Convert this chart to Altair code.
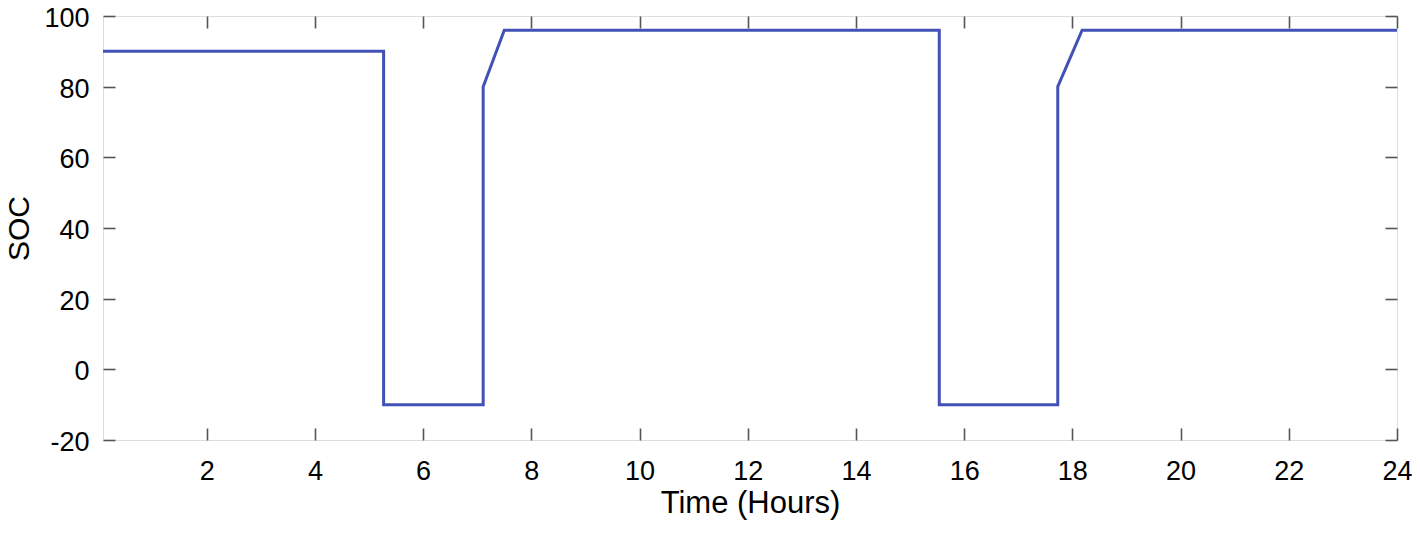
import altair as alt
import pandas as pd

# SOC profile (hours, percent)
hours = [1/12, 5.27, 5.27, 7.11, 7.11, 7.50, 15.54, 15.54, 17.73, 17.73, 18.18, 24.0]
soc = [90, 90, -10, -10, 80, 96, 96, -10, -10, 80, 96, 96]
x_ticks = [2, 4, 6, 8, 10, 12, 14, 16, 18, 20, 22, 24]
y_ticks = [-20, 0, 20, 40, 60, 80, 100]

df = pd.DataFrame({"t": hours, "soc": soc, "i": list(range(len(hours)))})

FONT = "Liberation Sans"
AX = "#555555"
LINE = "#4151B5"
TICK = 12

xscale = alt.Scale(domain=[1/12, 24], nice=False, zero=False)
yscale = alt.Scale(domain=[-20, 100], nice=False, zero=False)

common = dict(grid=False, domain=False, tickColor=AX, tickWidth=1.6, tickSize=TICK,
              offset=-TICK, labelFont=FONT, titleFont=FONT, labelColor="black",
              titleColor="black", labelFlush=False, labelOverlap=False,
              labelExpr="'' + datum.value")

x_bottom = alt.Axis(orient="bottom", values=x_ticks, labelFontSize=27, labelPadding=18,
                    title="Time (Hours)", titleFontSize=31, titleFontWeight="normal",
                    titlePadding=4, **common)
y_left = alt.Axis(orient="left", values=y_ticks, labelFontSize=27, labelPadding=14,
                  labelOffset=2.5,
                  title="SOC", titleFontSize=30, titleFontWeight="normal",
                  titlePadding=9, **common)
x_top = alt.Axis(orient="top", values=x_ticks, labels=False, title=None, **common)
y_right = alt.Axis(orient="right", values=y_ticks, labels=False, title=None, **common)

line = alt.Chart(df).mark_line(color=LINE, strokeWidth=3, strokeJoin="miter").encode(
    x=alt.X("t:Q", scale=xscale, axis=x_bottom),
    y=alt.Y("soc:Q", scale=yscale, axis=y_left),
    order=alt.Order("i:Q"),
)

frame_axes = alt.Chart(df).mark_point(opacity=0).encode(
    x=alt.X("t:Q", scale=xscale, axis=x_top),
    y=alt.Y("soc:Q", scale=yscale, axis=y_right),
)

chart = alt.layer(line, frame_axes).properties(
    width=1294, height=424,
    autosize=alt.AutoSizeParams(type="none"),
    padding={"left": 95, "top": 8, "right": 15, "bottom": 90},
).configure_view(stroke=AX, strokeWidth=1.6).configure(background="white")

chart.save("out.html", embed_options={"renderer": "svg", "actions": False})
